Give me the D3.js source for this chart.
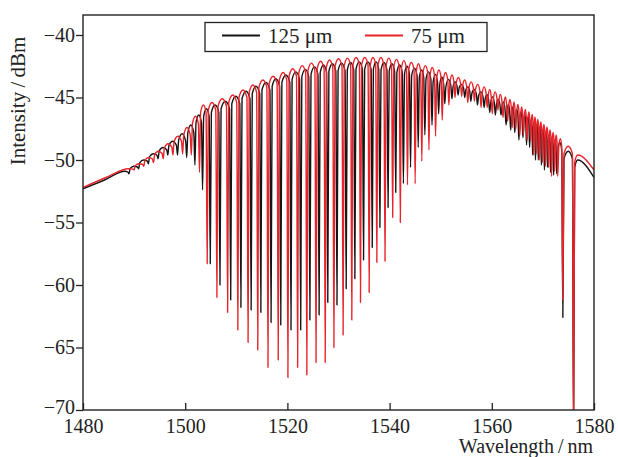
<!DOCTYPE html>
<html>
<head>
<meta charset="utf-8">
<script src="https://cdn.jsdelivr.net/npm/d3@7"></script>
<style>
body { margin: 0; background: #fff; }
text { font-family: "Liberation Serif", "Times New Roman", serif; fill: #222; }
</style>
</head>
<body>
<svg id="chart" width="618" height="457"></svg>
<script>
const xTicks = [1480, 1500, 1520, 1540, 1560, 1580]
const yTicks = [-70, -65, -60, -55, -50, -45, -40]
const seriesNames = ['125 \u03bcm', '75 \u03bcm']

// 125 um (black): dips, peaks sit between dips
const blackHead = [[1480, -52.3], [1484.2, -51.6], [1488.2, -50.9]]
const blackDipNm = [1489.0, 1490.9, 1492.8, 1494.7, 1496.6, 1498.5, 1500.3, 1501.9, 1503.4,
    1504.9, 1506.8, 1508.9, 1510.9, 1512.9, 1514.8, 1516.8, 1518.7, 1520.7, 1522.6,
    1524.4, 1526.2, 1527.9, 1529.7, 1531.5, 1533.2, 1534.9, 1536.6, 1538.1, 1539.7,
    1541.2, 1542.7, 1544.1, 1545.6, 1546.9, 1548.3, 1549.6, 1550.8, 1552.2, 1553.4,
    1554.7, 1555.9, 1557.2, 1558.5, 1559.6, 1560.7, 1561.8, 1562.8, 1563.7, 1564.5,
    1565.3, 1566.1, 1566.8, 1567.4, 1568.0, 1568.55, 1569.1, 1569.7, 1570.3, 1570.9,
    1571.5, 1572.1, 1572.7, 1573.9, 1576.0]
const blackDipDb = [-51.1, -50.7, -50.3, -49.9, -49.6, -49.6, -49.8, -50.4, -52.4,
    -58.3, -60.0, -61.2, -61.8, -62.0, -62.2, -63.0, -63.2, -63.6, -63.6,
    -62.8, -62.4, -61.4, -61.6, -60.3, -59.5, -58.0, -57.0, -55.4, -53.8,
    -52.6, -51.9, -50.6, -49.0, -48.0, -47.2, -46.3, -45.5, -45.1, -44.8,
    -45.0, -45.3, -45.6, -45.8, -46.2, -46.4, -46.4, -47.2, -47.6, -47.8,
    -48.4, -48.2, -48.8, -49.0, -49.6, -50.0, -50.0, -50.4, -50.8, -50.6,
    -51.0, -51.2, -51.1, -62.6, -72]
const blackPeakDb = [-50.5, -50.0, -49.5, -49.0, -48.5, -47.9, -47.2, -46.4,
    -45.9, -45.6, -45.3, -44.9, -44.5, -44.1, -43.8, -43.5, -43.2, -42.95,
    -42.75, -42.55, -42.4, -42.3, -42.25, -42.2, -42.15, -42.15, -42.15, -42.2,
    -42.3, -42.4, -42.5, -42.65, -42.8, -42.95, -43.15, -43.35, -43.55, -43.75,
    -43.95, -44.15, -44.35, -44.55, -44.75, -44.95, -45.15, -45.35, -45.55, -45.75,
    -45.95, -46.15, -46.35, -46.55, -46.75, -46.95, -47.15, -47.35, -47.55, -47.75,
    -47.95, -48.15, -48.35, -48.6, -49.3]
const blackTail = [[1576.8, -50.0], [1580, -51.4]]

// 75 um (red)
const redHead = [[1480, -52.2], [1484.5, -51.4], [1489.0, -50.7]]
const redDipNm = [1490.0, 1491.9, 1493.8, 1495.7, 1497.6, 1499.5, 1501.2, 1502.8,
    1504.3, 1506.2, 1508.3, 1510.3, 1512.3, 1514.2, 1516.2, 1518.2, 1520.1, 1522.0,
    1523.8, 1525.6, 1527.4, 1529.1, 1530.9, 1532.6, 1534.3, 1536.0, 1537.5, 1539.1,
    1540.6, 1542.1, 1543.5, 1545.0, 1546.3, 1547.7, 1549.0, 1550.3, 1551.6, 1552.8,
    1554.1, 1555.3, 1556.6, 1557.9, 1559.1, 1560.1, 1561.2, 1562.2, 1563.1, 1564.0,
    1564.7, 1565.5, 1566.2, 1566.9, 1567.6, 1568.2, 1568.7, 1569.3, 1569.9, 1570.5,
    1571.1, 1571.7, 1572.3, 1572.9, 1573.9, 1576.0]
const redDipDb = [-50.8, -50.5, -50.2, -49.9, -49.6, -49.5, -49.6, -51.0,
    -58.3, -61.0, -62.2, -63.6, -64.6, -65.2, -66.6, -66.0, -67.4, -66.6,
    -67.2, -66.2, -66.2, -65.0, -64.0, -62.8, -61.4, -60.6, -58.2, -58.1,
    -54.6, -55.0, -52.0, -51.9, -50.1, -49.2, -48.1, -46.8, -45.6, -45.0,
    -44.9, -45.4, -45.3, -45.8, -45.8, -46.3, -46.0, -46.6, -46.9, -47.4,
    -47.5, -48.0, -48.0, -48.4, -48.5, -49.6, -49.5, -50.0, -50.2, -50.5,
    -50.6, -51.3, -50.9, -51.3, -61.2, -72]
const redPeakDb = [-50.3, -49.8, -49.3, -48.7, -48.1, -47.4, -46.5, -45.6,
    -45.4, -45.1, -44.8, -44.4, -44.0, -43.6, -43.3, -43.0, -42.7, -42.45,
    -42.25, -42.1, -42.0, -41.9, -41.85, -41.8, -41.8, -41.8, -41.8, -41.85,
    -41.95, -42.05, -42.2, -42.3, -42.45, -42.6, -42.8, -43.0, -43.2, -43.4,
    -43.6, -43.75, -43.95, -44.15, -44.35, -44.55, -44.75, -44.95, -45.15, -45.35,
    -45.55, -45.75, -45.95, -46.15, -46.35, -46.55, -46.75, -46.95, -47.15, -47.35,
    -47.6, -47.8, -48.0, -48.3, -48.9]
const redTail = [[1576.8, -49.6], [1580, -50.8]]

const margin = { left: 83, right: 594, top: 15, bottom: 410 }
const notchHalf = 0.22   // nm, half width of a dip at its shoulders
const serif = '"Liberation Serif", "Times New Roman", serif'

let svg = d3.select('#chart')

let x = d3.scaleLinear().domain([1480, 1580]).range([margin.left, margin.right])
let y = d3.scaleLinear().domain([-70, -38.4]).range([margin.bottom, margin.top])

// each dip is drawn as a narrow notch below the rounded peaks
function shoulderDrop (level, dip) {
    return Math.min(0.6, 0.3 * (level - dip))
}

function buildPoints (head, dipNm, dipDb, peakDb, tail) {
    let pts = head.slice()
    dipNm.forEach((nm, i) => {
        let before = pts[pts.length - 1]
        let hasPeak = i < peakDb.length
        let afterNm = hasPeak ? (nm + dipNm[i + 1]) / 2 : tail[0][0]
        let afterDb = hasPeak ? peakDb[i] : tail[0][1]
        let hwL = Math.min(notchHalf, (nm - before[0]) * 0.45)
        let hwR = Math.min(notchHalf, (afterNm - nm) * 0.45)
        pts.push([nm - hwL, before[1] - shoulderDrop(before[1], dipDb[i])])
        pts.push([nm, dipDb[i]])
        pts.push([nm + hwR, afterDb - shoulderDrop(afterDb, dipDb[i])])
        if (hasPeak) pts.push([afterNm, afterDb])
    })
    return pts.concat(tail)
}

let blackPts = buildPoints(blackHead, blackDipNm, blackDipDb, blackPeakDb, blackTail)
let redPts = buildPoints(redHead, redDipNm, redDipDb, redPeakDb, redTail)

svg.append('clipPath')
    .attr('id', 'plot-clip')
    .append('rect')
    .attr('x', margin.left)
    .attr('y', margin.top)
    .attr('width', margin.right - margin.left)
    .attr('height', margin.bottom - margin.top)

let line = d3.line()
    .x(d => x(d[0]))
    .y(d => y(d[1]))
    .curve(d3.curveMonotoneX)

let plot = svg.append('g').attr('clip-path', 'url(#plot-clip)')

plot.append('path')
    .attr('d', line(blackPts))
    .attr('fill', 'none')
    .attr('stroke', '#151515')
    .attr('stroke-width', 1.4)
    .attr('stroke-linejoin', 'round')

plot.append('path')
    .attr('d', line(redPts))
    .attr('fill', 'none')
    .attr('stroke', '#e8232a')
    .attr('stroke-width', 1.4)
    .attr('stroke-linejoin', 'round')

// axes
let xAxis = svg.append('g')
    .attr('transform', `translate(0,${margin.bottom})`)
    .call(d3.axisBottom(x).tickValues(xTicks).tickFormat(d3.format('d'))
        .tickSizeInner(-7).tickSizeOuter(0).tickPadding(9))
let yAxis = svg.append('g')
    .attr('transform', `translate(${margin.left},0)`)
    .call(d3.axisLeft(y).tickValues(yTicks).tickSizeInner(7).tickSizeOuter(0).tickPadding(1))

;[xAxis, yAxis].forEach(ax => {
    ax.select('.domain').remove()
    ax.attr('font-family', null).attr('font-size', null)
    ax.selectAll('line').attr('stroke', '#222').attr('stroke-width', 1.3)
    ax.selectAll('text')
        .style('font-family', serif)
        .style('font-size', '20px')
        .attr('fill', '#222')
})
// the lowest y label sits a little above its tick, as in the original
yAxis.selectAll('.tick text').filter(d => d === -70).attr('dy', '0.15em')

// frame
svg.append('rect')
    .attr('x', margin.left)
    .attr('y', margin.top)
    .attr('width', margin.right - margin.left)
    .attr('height', margin.bottom - margin.top)
    .attr('fill', 'none')
    .attr('stroke', '#222')
    .attr('stroke-width', 1.4)

// axis titles
svg.append('text')
    .attr('transform', 'translate(25,101) rotate(-90)')
    .attr('text-anchor', 'middle')
    .style('font-family', serif)
    .style('font-size', '21px')
    .text('Intensity\u2009/\u2009dBm')

svg.append('text')
    .attr('x', 593)
    .attr('y', 453)
    .attr('text-anchor', 'end')
    .style('font-family', serif)
    .style('font-size', '20px')
    .text('Wavelength\u2009/\u2009nm')

// legend
let legend = svg.append('g')
legend.append('rect')
    .attr('x', 205).attr('y', 22.5)
    .attr('width', 282).attr('height', 29)
    .attr('fill', '#fff')
    .attr('stroke', '#222')
    .attr('stroke-width', 1.3)

let legendColors = ['#151515', '#e8232a']
let legendX = [222, 365]
seriesNames.forEach((name, i) => {
    legend.append('line')
        .attr('x1', legendX[i]).attr('x2', legendX[i] + 38)
        .attr('y1', 35.5).attr('y2', 35.5)
        .attr('stroke', legendColors[i])
        .attr('stroke-width', 2)
    legend.append('text')
        .attr('x', legendX[i] + 46)
        .attr('y', 43)
        .style('font-family', serif)
        .style('font-size', '21px')
        .text(name)
})
</script>
</body>
</html>
